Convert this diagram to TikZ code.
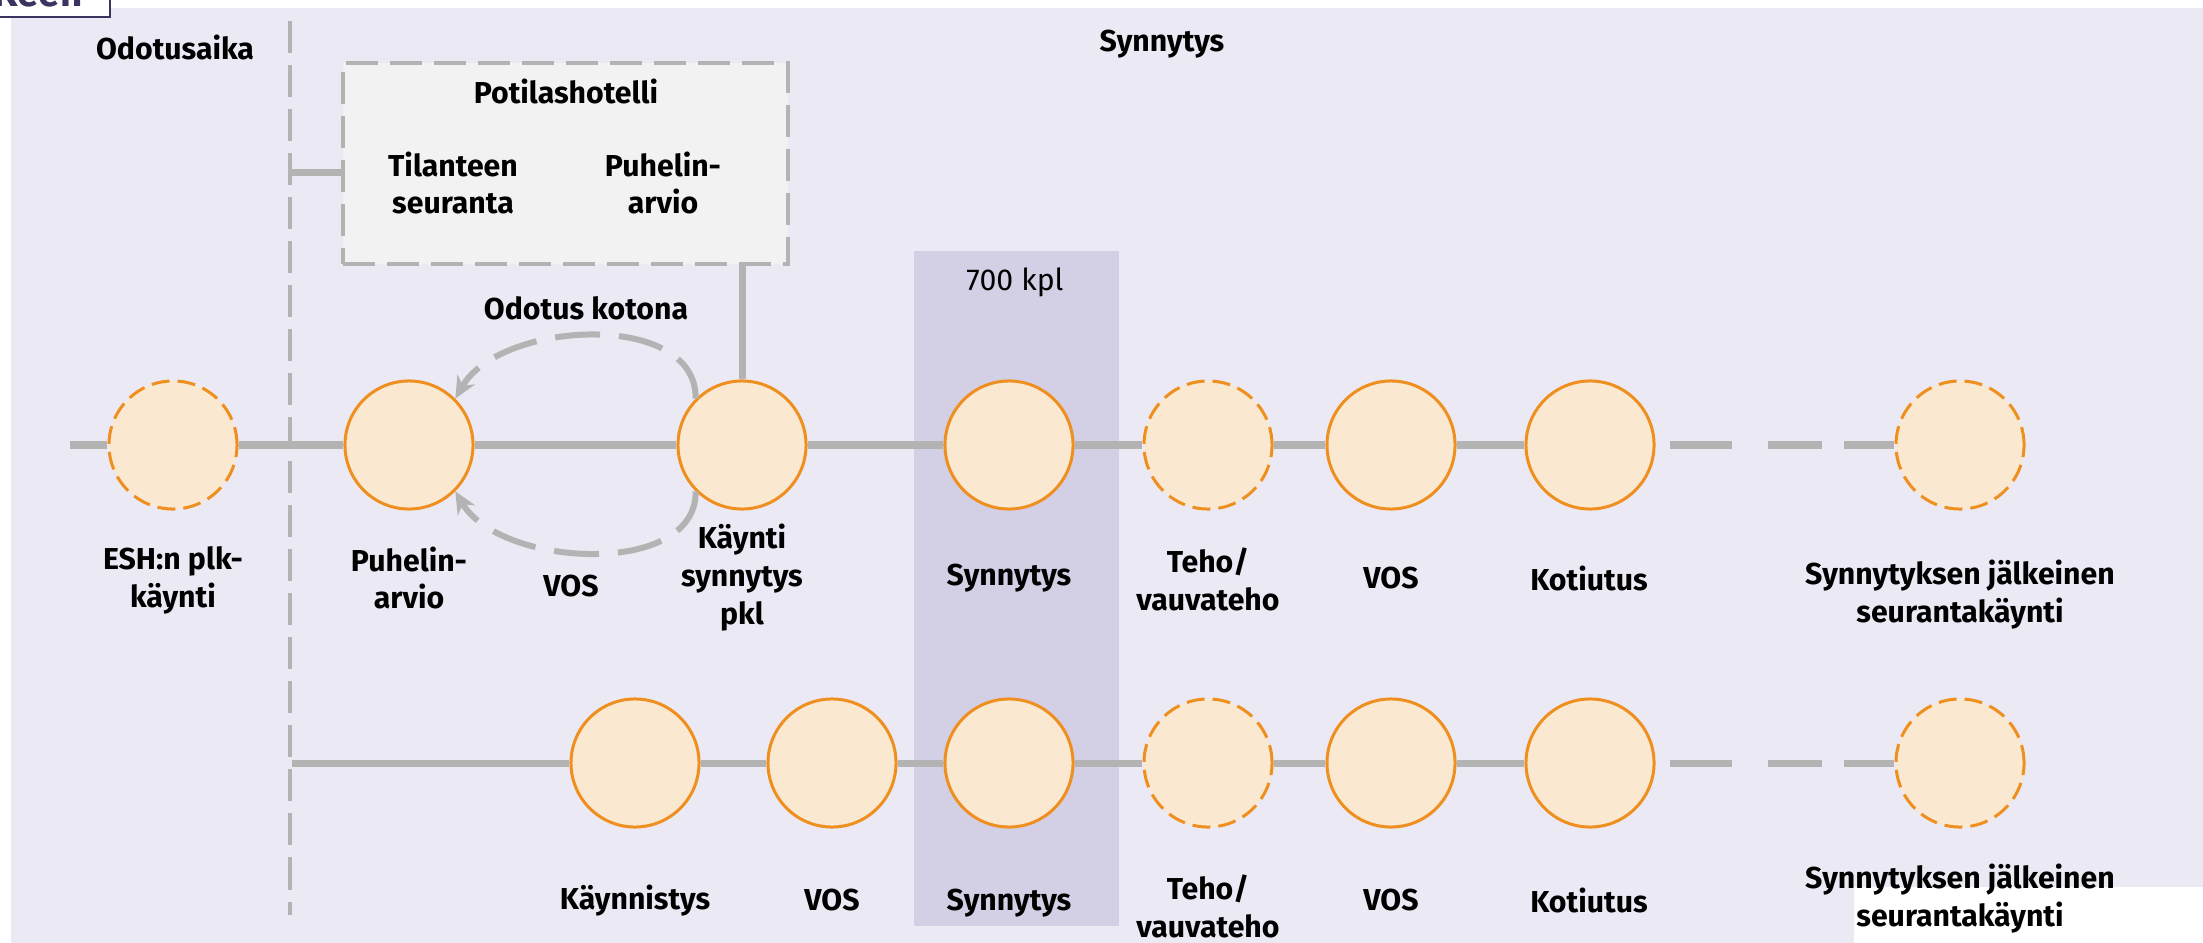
\documentclass[tikz,border=0pt]{standalone}
\usepackage{fontspec}
\setmainfont{Fira Sans}
\usepackage{tikz}
\usetikzlibrary{arrows.meta,positioning,calc}
\definecolor{pagebg}{HTML}{EBE9F4}
\definecolor{colbg}{HTML}{D3D0E6}
\definecolor{stepfill}{HTML}{FBE8D1}
\definecolor{stepline}{HTML}{EE8F1F}
\definecolor{linkgray}{HTML}{B3B3B3}
\definecolor{hotelfill}{HTML}{F2F2F2}
\definecolor{keennavy}{HTML}{3A3560}
\newcommand{\lblsize}{\fontsize{8.6}{10.8}\selectfont}
\tikzset{
  pathstep/.style={
    circle, draw=stepline, fill=stepfill, line width=0.03cm,
    minimum size=1.28cm, inner sep=0pt
  },
  pathopt/.style={pathstep, dash pattern=on 0.18cm off 0.08cm},
  pathlink/.style={draw=linkgray, line width=0.07cm},
  pathgap/.style={pathlink, dash pattern=on 0cm off 0.14cm on 0.62cm off 0.36cm on 0.54cm off 0.22cm on 0.8cm},
  pathloop/.style={draw=linkgray, line width=0.06cm, dash pattern=on 0.45cm off 0.19cm,
    -{Stealth[length=0.22cm,width=0.2cm]}},
  sepline/.style={draw=linkgray, line width=0.045cm, dash pattern=on 0.32cm off 0.12cm},
  steplabel/.style={font=\lblsize\bfseries, align=center, inner sep=1pt},
}

\begin{document}
\begin{tikzpicture}[x=0.01cm, y=-0.01cm]
  \useasboundingbox (0,0) rectangle (2203,943);
  \clip (0,0) rectangle (2203,943);
  % backdrop
  \fill[pagebg] (11,8) rectangle (2203,943);
  \fill[white] (1854,887) rectangle (2203,943);
  \fill[colbg] (914,251) rectangle (1119,926);
  \draw[keennavy, fill=white, line width=0.02cm] (-5,-20) rectangle (110,17);
  \node (keen) [anchor=base west, font=\fontsize{11}{13}\selectfont\bfseries, text=keennavy, inner sep=0pt] at (-7,7) {Keen};

  % headings
  \node (hwait) [steplabel] at (175,47) {Odotusaika};
  \node (hbirth) [steplabel] at (1162,44) {Synnytys};
  \node (count) [font=\lblsize, inner sep=1pt] at (1015,282) {700 kpl};

  % phase divider
  \coordinate (septop) at (290,21);
  \coordinate (sepbot) at (290,915);
  \draw[sepline] (septop) -- (sepbot);

  % patient hotel
  \node (hotel) [draw=linkgray, fill=hotelfill, line width=0.045cm, dash pattern=on 0.32cm off 0.12cm,
    minimum width=4.45cm, minimum height=2.01cm] at (565.5,163.5) {};
  \node (hoteltitle) [steplabel] at (566,92) {Potilashotelli};
  \node (hotelwatch) [steplabel] at (453,183) {Tilanteen\\seuranta};
  \node (hotelphone) [steplabel] at (663,183) {Puhelin-\\arvio};
  \coordinate (hotelin) at (292,173);
  \draw[pathlink] (hotelin) -- (hotelin -| hotel.west);

  % top path
  \node (esh) [pathopt] at (173,445) {};
  \node (puh) [pathstep] at (409,445) {};
  \node (kay) [pathstep] at (742,445) {};
  \node (syn) [pathstep] at (1009,445) {};
  \node (teho) [pathopt] at (1208,445) {};
  \node (vos) [pathstep] at (1391,445) {};
  \node (koti) [pathstep] at (1590,445) {};
  \node (seur) [pathopt] at (1960,445) {};
  \coordinate (topstart) at (70,445);
  \draw[pathlink] (topstart) -- (esh); \draw[pathlink] (esh) -- (puh); \draw[pathlink] (puh) -- (kay);
  \draw[pathlink] (kay) -- (syn); \draw[pathlink] (syn) -- (teho); \draw[pathlink] (teho) -- (vos);
  \draw[pathlink] (vos) -- (koti);
  \draw[pathgap] (koti) -- (seur);
  \draw[pathlink] (kay) -- (kay |- hotel.south);
  \draw[pathloop] (kay.135) .. controls (697,310) and (500,320) .. (puh.45);
  \draw[pathloop] (kay.225) .. controls (697,578) and (500,568) .. (puh.-45);
  \node (home) [steplabel] at (586,308) {Odotus kotona};
  \node (loopvos) [steplabel] at (571,586) {VOS};

  \node (eshlbl) [steplabel] at (173,580) {ESH:n plk-\\käynti};
  \node (puhlbl) [steplabel] at (409,578) {Puhelin-\\arvio};
  \node (kaylbl) [steplabel] at (742,578) {Käynti\\synnytys\\pkl};
  \node (synlbl) [steplabel] at (1009,578) {Synnytys};
  \node (teholbl) [steplabel] at (1208,579) {Teho/\\vauvateho};
  \node (voslbl) [steplabel] at (1391,578) {VOS};
  \node (kotilbl) [steplabel] at (1589,578) {Kotiutus};
  \node (seurlbl) [steplabel] at (1960,595) {Synnytyksen jälkeinen\\seurantakäynti};

  % bottom path
  \node (bkay) [pathstep] at (635,763) {};
  \node (bvos) [pathstep] at (832,763) {};
  \node (bsyn) [pathstep] at (1009,763) {};
  \node (bteho) [pathopt] at (1208,763) {};
  \node (bvos2) [pathstep] at (1391,763) {};
  \node (bkoti) [pathstep] at (1590,763) {};
  \node (bseur) [pathopt] at (1960,763) {};
  \coordinate (botstart) at (292,763);
  \draw[pathlink] (botstart) -- (bkay); \draw[pathlink] (bkay) -- (bvos); \draw[pathlink] (bvos) -- (bsyn);
  \draw[pathlink] (bsyn) -- (bteho); \draw[pathlink] (bteho) -- (bvos2); \draw[pathlink] (bvos2) -- (bkoti);
  \draw[pathgap] (bkoti) -- (bseur);

  \node (bkaylbl) [steplabel] at (635,901) {Käynnistys};
  \node (bvoslbl) [steplabel] at (832,900) {VOS};
  \node (bsynlbl) [steplabel] at (1009,903) {Synnytys};
  \node (bteholbl) [steplabel] at (1208,906) {Teho/\\vauvateho};
  \node (bvos2lbl) [steplabel] at (1391,900) {VOS};
  \node (bkotilbl) [steplabel] at (1589,900) {Kotiutus};
  \node (bseurlbl) [steplabel] at (1960,899) {Synnytyksen jälkeinen\\seurantakäynti};
\end{tikzpicture}
\end{document}
